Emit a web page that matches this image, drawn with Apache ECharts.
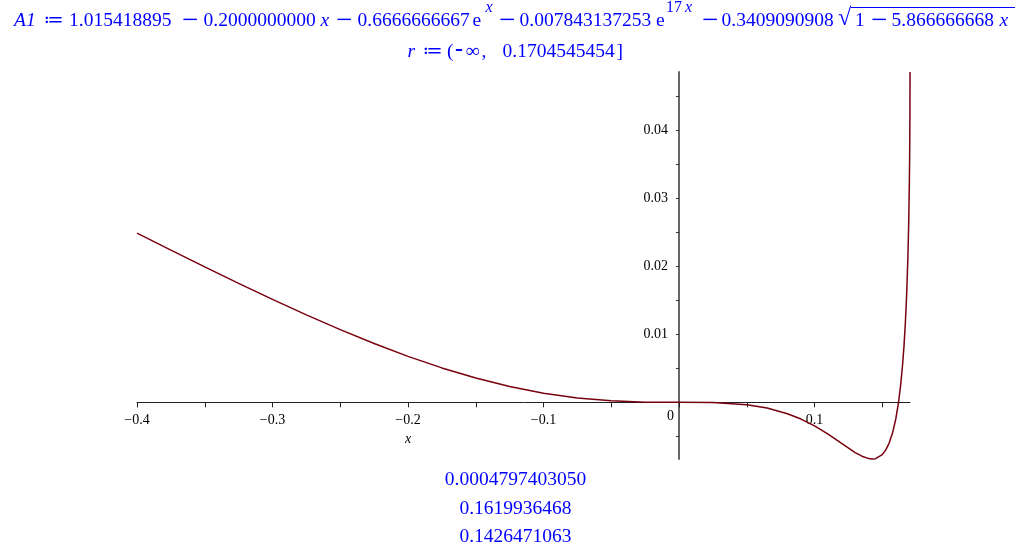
<!DOCTYPE html>
<html>
<head>
<meta charset="utf-8">
<style>html,body{margin:0;padding:0;background:#fff;}#c{width:1025px;height:551px;}</style>
<script src="https://cdn.jsdelivr.net/npm/echarts@6/dist/echarts.min.js"></script>
</head>
<body>
<div id="c"></div>
<script>
// x positions and A1(x) values
const xs = [-0.4, -0.375, -0.35, -0.325, -0.3, -0.275, -0.25, -0.225, -0.2, -0.175, -0.15, -0.125, -0.1, -0.075, -0.05, -0.025, 0, 0.025, 0.05, 0.065, 0.08, 0.09, 0.1, 0.11, 0.12, 0.13, 0.135, 0.14, 0.14265, 0.145, 0.15, 0.1525, 0.155, 0.1575, 0.16, 0.162, 0.1635, 0.165, 0.166, 0.167, 0.168, 0.169, 0.1695, 0.17, 0.1702, 0.1703, 0.1704, 0.17045, 0.1704545];
const ys = [0.02487, 0.02238, 0.01991, 0.01749, 0.01513, 0.01286, 0.01069, 0.00865, 0.00676, 0.00506, 0.00357, 0.00232, 0.00134, 0.00064, 0.00022, 0.00003, 0, -0.00004, -0.00036, -0.00084, -0.00167, -0.00246, -0.00347, -0.00468, -0.00604, -0.00738, -0.00792, -0.00827, -0.00833, -0.00828, -0.00768, -0.00703, -0.00603, -0.00456, -0.00241, 0.00001, 0.00241, 0.00556, 0.00822, 0.01155, 0.01589, 0.02198, 0.02628, 0.03250, 0.03625, 0.03882, 0.04264, 0.04681, 0.04856];
const xRange = [-0.4, 0.1704545];
const yRange = [-0.00833, 0.04856];
const xTickValues = [-0.4, -0.35, -0.3, -0.25, -0.2, -0.15, -0.1, -0.05, 0, 0.05, 0.1, 0.15];
const xLabelValues = [-0.4, -0.3, -0.2, -0.1, 0, 0.1];
const yTickValues = [-0.005, 0, 0.005, 0.01, 0.015, 0.02, 0.025, 0.03, 0.035, 0.04, 0.045];
const yLabelValues = [0.01, 0.02, 0.03, 0.04];
const resultLines = ['0.0004797403050', '0.1619936468', '0.1426471063'];

// header typography (text, left x, style key)
const header1 = [
  ['A1', 14, 'I'], ['≔', 43.5, 'N'], ['1.015418895', 69, 'N'], ['−', 182, 'M'],
  ['0.2000000000', 203.5, 'N'], ['x', 320.5, 'I'], ['−', 336, 'M'],
  ['0.6666666667', 357.5, 'N'], ['e', 472.5, 'N'], ['x', 485.5, 'SI'], ['−', 499, 'M'],
  ['0.007843137253', 519.5, 'N'], ['e', 656, 'N'], ['17', 666, 'S'], ['x', 685, 'SI'], ['−', 702, 'M'],
  ['0.3409090908', 721.5, 'N'], ['√', 838, 'R'], ['1', 855, 'N'], ['−', 871, 'M'],
  ['5.866666668', 891.5, 'N'], ['x', 999.5, 'I']
];
const header2 = [
  ['r', 407.5, 'I2'], ['≔', 422.5, 'N2'], ['(', 447, 'N2'], ['-', 455, 'H2'], ['∞', 465.5, 'N2'],
  [',', 481.5, 'N2'], ['0.1704545454', 502.5, 'N2'], [']', 616.5, 'N2']
];

const SERIF = '"Liberation Serif", "DejaVu Serif", serif';
const BLUE = '#0000ff';
const headStyles = {
  N:  {fontSize: 19.5, fontStyle: 'normal', fontWeight: 'normal', y: 21},
  I:  {fontSize: 19.5, fontStyle: 'italic', fontWeight: 'normal', y: 21},
  M:  {fontSize: 29, fontStyle: 'normal', fontWeight: 'normal', y: 21.5},
  S:  {fontSize: 16, fontStyle: 'normal', fontWeight: 'normal', y: 7.6},
  SI: {fontSize: 16, fontStyle: 'italic', fontWeight: 'normal', y: 7.6},
  R:  {fontSize: 24, fontStyle: 'normal', fontWeight: 'normal', y: 18.8},
  N2: {fontSize: 19.5, fontStyle: 'normal', fontWeight: 'normal', y: 52},
  I2: {fontSize: 19.5, fontStyle: 'italic', fontWeight: 'normal', y: 52},
  H2: {fontSize: 24, fontStyle: 'normal', fontWeight: 'bold', y: 50}
};

function headText(seg) {
  const st = headStyles[seg[2]];
  return {
    type: 'text', x: seg[1], y: st.y, silent: true,
    style: {text: seg[0], fill: BLUE, fontFamily: SERIF, fontSize: st.fontSize,
      fontStyle: st.fontStyle, fontWeight: st.fontWeight, align: 'left', verticalAlign: 'middle'}
  };
}

const GRID = {left: 137, right: 115, top: 72, bottom: 92};
const W = 1025, H = 551;
const plotW = W - GRID.left - GRID.right;
const plotH = H - GRID.top - GRID.bottom;
// put each axis through the other's zero
const xAxisOffset = -plotH * (0 - yRange[0]) / (yRange[1] - yRange[0]);
const yAxisOffset = -plotW * (0 - xRange[0]) / (xRange[1] - xRange[0]);

function fmtX(v) {
  if (Math.abs(v) < 1e-9) return '{z|0}';
  const s = Math.abs(v).toFixed(1);
  return v < 0 ? '−' + s : s;
}

const graphics = header1.map(headText).concat(header2.map(headText));
graphics.push({type: 'line', silent: true, shape: {x1: 851, y1: 7.5, x2: 1015, y2: 7.5}, style: {stroke: BLUE, lineWidth: 1}});
const resultY = [479.4, 508.4, 537];
resultLines.forEach((t, i) => {
  graphics.push({type: 'text', x: 515.5, y: resultY[i], silent: true,
    style: {text: t, fill: BLUE, fontFamily: SERIF, fontSize: 19.5, align: 'center', verticalAlign: 'middle'}});
});

const chart = echarts.init(document.getElementById('c'), null, {renderer: 'canvas'});
chart.setOption({
  backgroundColor: '#fff',
  animation: false,
  graphic: graphics,
  grid: {left: GRID.left, right: GRID.right, top: GRID.top, bottom: GRID.bottom, containLabel: false},
  xAxis: {
    type: 'value', min: xRange[0], max: xRange[1], position: 'bottom', offset: xAxisOffset,
    axisLine: {onZero: false, lineStyle: {color: '#222', width: 1}},
    axisTick: {customValues: xTickValues, length: 5, lineStyle: {color: '#222'}},
    axisLabel: {customValues: xLabelValues, formatter: fmtX, margin: 11,
      fontFamily: SERIF, fontSize: 14, color: '#000',
      rich: {z: {fontFamily: SERIF, fontSize: 14, color: '#000', lineHeight: 6, padding: [0, 17, 0, 0]}}},
    splitLine: {show: false},
    name: 'x', nameLocation: 'middle', nameGap: 25,
    nameTextStyle: {fontFamily: SERIF, fontSize: 14, fontStyle: 'italic', color: '#000', padding: [0, 231, 0, 0]}
  },
  yAxis: {
    type: 'value', min: yRange[0], max: yRange[1], position: 'left', offset: yAxisOffset,
    axisLine: {onZero: false, lineStyle: {color: '#666', width: 2}},
    axisTick: {customValues: yTickValues, length: 3, lineStyle: {color: '#333'}},
    axisLabel: {customValues: yLabelValues, margin: 11, fontFamily: SERIF, fontSize: 14, color: '#000'},
    splitLine: {show: false}
  },
  series: [{
    type: 'line',
    data: xs.map((x, i) => [x, ys[i]]),
    showSymbol: false,
    clip: false,
    lineStyle: {color: '#78000E', width: 1.5}
  }]
});
</script>
</body>
</html>
